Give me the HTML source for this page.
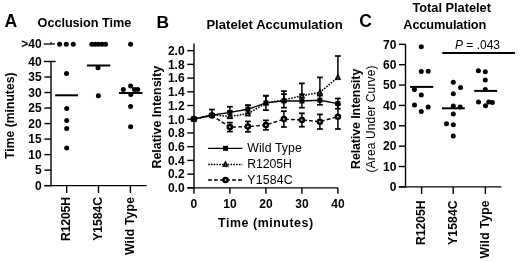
<!DOCTYPE html>
<html><head><meta charset="utf-8"><title>Figure</title>
<style>
html,body{margin:0;padding:0;background:#fff;}
body{width:520px;height:262px;overflow:hidden;}
svg{display:block;will-change:transform;}
svg text{font-family:"Liberation Sans", sans-serif;fill:#000;}
</style></head>
<body>
<svg width="520" height="262" viewBox="0 0 520 262">
<rect width="520" height="262" fill="#fff"/>
<text x="4.5" y="26.7" font-size="17.6" font-weight="bold" text-anchor="start" >A</text>
<text x="37.6" y="27.1" font-size="12.7" font-weight="bold" text-anchor="start" textLength="93.6" lengthAdjust="spacing" >Occlusion Time</text>
<text x="13.6" y="115.7" font-size="12.2" font-weight="bold" text-anchor="middle" textLength="86.4" lengthAdjust="spacing" transform="rotate(-90 13.6 115.7)" >Time (minutes)</text>
<line x1="51" y1="61.49" x2="51" y2="186.35" stroke="#000" stroke-width="1.4"/>
<line x1="43.8" y1="61.49" x2="55.6" y2="61.49" stroke="#000" stroke-width="1.4"/>
<line x1="44.4" y1="185.65" x2="51" y2="185.65" stroke="#000" stroke-width="1.4"/>
<line x1="44.4" y1="170.13" x2="51" y2="170.13" stroke="#000" stroke-width="1.4"/>
<line x1="44.4" y1="154.61" x2="51" y2="154.61" stroke="#000" stroke-width="1.4"/>
<line x1="44.4" y1="139.09" x2="51" y2="139.09" stroke="#000" stroke-width="1.4"/>
<line x1="44.4" y1="123.57" x2="51" y2="123.57" stroke="#000" stroke-width="1.4"/>
<line x1="44.4" y1="108.05" x2="51" y2="108.05" stroke="#000" stroke-width="1.4"/>
<line x1="44.4" y1="92.53" x2="51" y2="92.53" stroke="#000" stroke-width="1.4"/>
<line x1="44.4" y1="77.01" x2="51" y2="77.01" stroke="#000" stroke-width="1.4"/>
<text x="41.6" y="189.95" font-size="12" font-weight="bold" text-anchor="end" >0</text>
<text x="41.6" y="174.43" font-size="12" font-weight="bold" text-anchor="end" >5</text>
<text x="41.6" y="158.91" font-size="12" font-weight="bold" text-anchor="end" >10</text>
<text x="41.6" y="143.39" font-size="12" font-weight="bold" text-anchor="end" >15</text>
<text x="41.6" y="127.87" font-size="12" font-weight="bold" text-anchor="end" >20</text>
<text x="41.6" y="112.35" font-size="12" font-weight="bold" text-anchor="end" >25</text>
<text x="41.6" y="96.83" font-size="12" font-weight="bold" text-anchor="end" >30</text>
<text x="41.6" y="81.31" font-size="12" font-weight="bold" text-anchor="end" >35</text>
<text x="41.6" y="65.79" font-size="12" font-weight="bold" text-anchor="end" >40</text>
<line x1="43.8" y1="44" x2="54.9" y2="44" stroke="#000" stroke-width="1.3"/>
<line x1="51" y1="42" x2="51" y2="44" stroke="#000" stroke-width="1.2"/>
<text x="41.6" y="48.0" font-size="12" font-weight="bold" text-anchor="end" >&gt;40</text>
<line x1="44.4" y1="185.65" x2="146.7" y2="185.65" stroke="#000" stroke-width="1.4"/>
<line x1="66.7" y1="185.65" x2="66.7" y2="193" stroke="#000" stroke-width="1.4"/>
<line x1="98.5" y1="185.65" x2="98.5" y2="193" stroke="#000" stroke-width="1.4"/>
<line x1="130.4" y1="185.65" x2="130.4" y2="193" stroke="#000" stroke-width="1.4"/>
<text x="69.6" y="197.0" font-size="12.2" font-weight="bold" text-anchor="end" textLength="44" lengthAdjust="spacing" transform="rotate(-90 69.6 197.0)" >R1205H</text>
<text x="101.6" y="197.0" font-size="12.2" font-weight="bold" text-anchor="end" textLength="43.8" lengthAdjust="spacing" transform="rotate(-90 101.6 197.0)" >Y1584C</text>
<text x="134.3" y="197.0" font-size="12.2" font-weight="bold" text-anchor="end" textLength="58" lengthAdjust="spacing" transform="rotate(-90 134.3 197.0)" >Wild Type</text>
<circle cx="59.6" cy="44.2" r="2.5" fill="#000"/>
<circle cx="66.3" cy="44.2" r="2.5" fill="#000"/>
<circle cx="73.2" cy="44.2" r="2.5" fill="#000"/>
<circle cx="66.5" cy="73.5" r="2.5" fill="#000"/>
<circle cx="66.7" cy="108.4" r="2.5" fill="#000"/>
<circle cx="66.7" cy="120.6" r="2.5" fill="#000"/>
<circle cx="66.7" cy="128.4" r="2.5" fill="#000"/>
<circle cx="66.7" cy="148.1" r="2.5" fill="#000"/>
<line x1="55.1" y1="95.3" x2="78.1" y2="95.3" stroke="#000" stroke-width="2"/>
<circle cx="91.8" cy="44.2" r="2.5" fill="#000"/>
<circle cx="95.2" cy="44.2" r="2.5" fill="#000"/>
<circle cx="98.6" cy="44.2" r="2.5" fill="#000"/>
<circle cx="102.0" cy="44.2" r="2.5" fill="#000"/>
<circle cx="105.5" cy="44.2" r="2.5" fill="#000"/>
<circle cx="98" cy="67.8" r="2.5" fill="#000"/>
<circle cx="98.4" cy="95.7" r="2.5" fill="#000"/>
<line x1="86.9" y1="65.5" x2="110.2" y2="65.5" stroke="#000" stroke-width="2"/>
<circle cx="130.6" cy="44.2" r="2.5" fill="#000"/>
<circle cx="123.3" cy="89.4" r="2.5" fill="#000"/>
<circle cx="130.6" cy="85.9" r="2.5" fill="#000"/>
<circle cx="134.4" cy="89.6" r="2.5" fill="#000"/>
<circle cx="137.7" cy="89.4" r="2.5" fill="#000"/>
<circle cx="130.8" cy="94.4" r="2.5" fill="#000"/>
<circle cx="130.6" cy="106.5" r="2.5" fill="#000"/>
<circle cx="130.6" cy="126.7" r="2.5" fill="#000"/>
<line x1="119" y1="93" x2="142.4" y2="93" stroke="#000" stroke-width="2"/>
<text x="156.6" y="28.0" font-size="17.4" font-weight="bold" text-anchor="start" >B</text>
<text x="206.4" y="28.6" font-size="13" font-weight="bold" text-anchor="start" textLength="136.2" lengthAdjust="spacing" >Platelet Accumulation</text>
<text x="161.0" y="117.2" font-size="12.5" font-weight="bold" text-anchor="middle" textLength="102.8" lengthAdjust="spacing" transform="rotate(-90 161.0 117.2)" >Relative Intensity</text>
<line x1="194" y1="43.6" x2="194" y2="188.55" stroke="#000" stroke-width="1.4"/>
<line x1="187.3" y1="187.85" x2="194" y2="187.85" stroke="#000" stroke-width="1.4"/>
<text x="184.6" y="192.15" font-size="12" font-weight="bold" text-anchor="end" >0.0</text>
<line x1="187.3" y1="174.13" x2="194" y2="174.13" stroke="#000" stroke-width="1.4"/>
<text x="184.6" y="178.43" font-size="12" font-weight="bold" text-anchor="end" >0.2</text>
<line x1="187.3" y1="160.41" x2="194" y2="160.41" stroke="#000" stroke-width="1.4"/>
<text x="184.6" y="164.71" font-size="12" font-weight="bold" text-anchor="end" >0.4</text>
<line x1="187.3" y1="146.69" x2="194" y2="146.69" stroke="#000" stroke-width="1.4"/>
<text x="184.6" y="150.99" font-size="12" font-weight="bold" text-anchor="end" >0.6</text>
<line x1="187.3" y1="132.97" x2="194" y2="132.97" stroke="#000" stroke-width="1.4"/>
<text x="184.6" y="137.27" font-size="12" font-weight="bold" text-anchor="end" >0.8</text>
<line x1="187.3" y1="119.25" x2="194" y2="119.25" stroke="#000" stroke-width="1.4"/>
<text x="184.6" y="123.55" font-size="12" font-weight="bold" text-anchor="end" >1.0</text>
<line x1="187.3" y1="105.53" x2="194" y2="105.53" stroke="#000" stroke-width="1.4"/>
<text x="184.6" y="109.83" font-size="12" font-weight="bold" text-anchor="end" >1.2</text>
<line x1="187.3" y1="91.81" x2="194" y2="91.81" stroke="#000" stroke-width="1.4"/>
<text x="184.6" y="96.11" font-size="12" font-weight="bold" text-anchor="end" >1.4</text>
<line x1="187.3" y1="78.09" x2="194" y2="78.09" stroke="#000" stroke-width="1.4"/>
<text x="184.6" y="82.39" font-size="12" font-weight="bold" text-anchor="end" >1.6</text>
<line x1="187.3" y1="64.37" x2="194" y2="64.37" stroke="#000" stroke-width="1.4"/>
<text x="184.6" y="68.67" font-size="12" font-weight="bold" text-anchor="end" >1.8</text>
<line x1="187.3" y1="50.65" x2="194" y2="50.65" stroke="#000" stroke-width="1.4"/>
<text x="184.6" y="54.95" font-size="12" font-weight="bold" text-anchor="end" >2.0</text>
<line x1="187.3" y1="187.85" x2="337.9" y2="187.85" stroke="#000" stroke-width="1.4"/>
<line x1="193.9" y1="187.85" x2="193.9" y2="193.7" stroke="#000" stroke-width="1.4"/>
<text x="193.9" y="207.9" font-size="12" font-weight="bold" text-anchor="middle" >0</text>
<line x1="229.9" y1="187.85" x2="229.9" y2="193.7" stroke="#000" stroke-width="1.4"/>
<text x="229.9" y="207.9" font-size="12" font-weight="bold" text-anchor="middle" >10</text>
<line x1="265.9" y1="187.85" x2="265.9" y2="193.7" stroke="#000" stroke-width="1.4"/>
<text x="265.9" y="207.9" font-size="12" font-weight="bold" text-anchor="middle" >20</text>
<line x1="301.9" y1="187.85" x2="301.9" y2="193.7" stroke="#000" stroke-width="1.4"/>
<text x="301.9" y="207.9" font-size="12" font-weight="bold" text-anchor="middle" >30</text>
<line x1="337.9" y1="187.85" x2="337.9" y2="193.7" stroke="#000" stroke-width="1.4"/>
<text x="337.9" y="207.9" font-size="12" font-weight="bold" text-anchor="middle" >40</text>
<text x="218.1" y="227.0" font-size="12.4" font-weight="bold" text-anchor="start" textLength="95" lengthAdjust="spacing" >Time (minutes)</text>
<line x1="211.9" y1="114" x2="211.9" y2="117" stroke="#000" stroke-width="1.5"/>
<line x1="209" y1="114" x2="214.8" y2="114" stroke="#000" stroke-width="1.7"/>
<line x1="209" y1="117" x2="214.8" y2="117" stroke="#000" stroke-width="1.7"/>
<line x1="229.9" y1="122.6" x2="229.9" y2="131.6" stroke="#000" stroke-width="1.5"/>
<line x1="227" y1="122.6" x2="232.8" y2="122.6" stroke="#000" stroke-width="1.7"/>
<line x1="227" y1="131.6" x2="232.8" y2="131.6" stroke="#000" stroke-width="1.7"/>
<line x1="247.9" y1="121.4" x2="247.9" y2="131.8" stroke="#000" stroke-width="1.5"/>
<line x1="245" y1="121.4" x2="250.8" y2="121.4" stroke="#000" stroke-width="1.7"/>
<line x1="245" y1="131.8" x2="250.8" y2="131.8" stroke="#000" stroke-width="1.7"/>
<line x1="265.9" y1="120.35" x2="265.9" y2="129.85" stroke="#000" stroke-width="1.5"/>
<line x1="263" y1="120.35" x2="268.8" y2="120.35" stroke="#000" stroke-width="1.7"/>
<line x1="263" y1="129.85" x2="268.8" y2="129.85" stroke="#000" stroke-width="1.7"/>
<line x1="283.9" y1="111.2" x2="283.9" y2="127" stroke="#000" stroke-width="1.5"/>
<line x1="281" y1="111.2" x2="286.8" y2="111.2" stroke="#000" stroke-width="1.7"/>
<line x1="281" y1="127" x2="286.8" y2="127" stroke="#000" stroke-width="1.7"/>
<line x1="301.9" y1="113.3" x2="301.9" y2="126.7" stroke="#000" stroke-width="1.5"/>
<line x1="299" y1="113.3" x2="304.8" y2="113.3" stroke="#000" stroke-width="1.7"/>
<line x1="299" y1="126.7" x2="304.8" y2="126.7" stroke="#000" stroke-width="1.7"/>
<line x1="319.9" y1="114.4" x2="319.9" y2="129" stroke="#000" stroke-width="1.5"/>
<line x1="317" y1="114.4" x2="322.8" y2="114.4" stroke="#000" stroke-width="1.7"/>
<line x1="317" y1="129" x2="322.8" y2="129" stroke="#000" stroke-width="1.7"/>
<line x1="337.9" y1="104.4" x2="337.9" y2="129" stroke="#000" stroke-width="1.5"/>
<line x1="335" y1="104.4" x2="340.8" y2="104.4" stroke="#000" stroke-width="1.7"/>
<line x1="335" y1="129" x2="340.8" y2="129" stroke="#000" stroke-width="1.7"/>
<line x1="211.9" y1="109.5" x2="211.9" y2="115" stroke="#000" stroke-width="1.5"/>
<line x1="209" y1="109.5" x2="214.8" y2="109.5" stroke="#000" stroke-width="1.7"/>
<line x1="229.9" y1="111.4" x2="229.9" y2="116.4" stroke="#000" stroke-width="1.5"/>
<line x1="227" y1="111.4" x2="232.8" y2="111.4" stroke="#000" stroke-width="1.7"/>
<line x1="247.9" y1="105.3" x2="247.9" y2="113.8" stroke="#000" stroke-width="1.5"/>
<line x1="245" y1="105.3" x2="250.8" y2="105.3" stroke="#000" stroke-width="1.7"/>
<line x1="265.9" y1="95.7" x2="265.9" y2="102.9" stroke="#000" stroke-width="1.5"/>
<line x1="263" y1="95.7" x2="268.8" y2="95.7" stroke="#000" stroke-width="1.7"/>
<line x1="283.9" y1="91.1" x2="283.9" y2="100" stroke="#000" stroke-width="1.5"/>
<line x1="281" y1="91.1" x2="286.8" y2="91.1" stroke="#000" stroke-width="1.7"/>
<line x1="301.9" y1="83.4" x2="301.9" y2="95.8" stroke="#000" stroke-width="1.5"/>
<line x1="299" y1="83.4" x2="304.8" y2="83.4" stroke="#000" stroke-width="1.7"/>
<line x1="319.9" y1="77.4" x2="319.9" y2="92.4" stroke="#000" stroke-width="1.5"/>
<line x1="317" y1="77.4" x2="322.8" y2="77.4" stroke="#000" stroke-width="1.7"/>
<line x1="337.9" y1="56" x2="337.9" y2="77.3" stroke="#000" stroke-width="1.5"/>
<line x1="335" y1="56" x2="340.8" y2="56" stroke="#000" stroke-width="1.7"/>
<line x1="211.9" y1="113.8" x2="211.9" y2="116.8" stroke="#000" stroke-width="1.5"/>
<line x1="209" y1="113.8" x2="214.8" y2="113.8" stroke="#000" stroke-width="1.7"/>
<line x1="209" y1="116.8" x2="214.8" y2="116.8" stroke="#000" stroke-width="1.7"/>
<line x1="229.9" y1="106.7" x2="229.9" y2="118.1" stroke="#000" stroke-width="1.5"/>
<line x1="227" y1="106.7" x2="232.8" y2="106.7" stroke="#000" stroke-width="1.7"/>
<line x1="227" y1="118.1" x2="232.8" y2="118.1" stroke="#000" stroke-width="1.7"/>
<line x1="247.9" y1="105.3" x2="247.9" y2="113.3" stroke="#000" stroke-width="1.5"/>
<line x1="245" y1="105.3" x2="250.8" y2="105.3" stroke="#000" stroke-width="1.7"/>
<line x1="245" y1="113.3" x2="250.8" y2="113.3" stroke="#000" stroke-width="1.7"/>
<line x1="265.9" y1="95.7" x2="265.9" y2="110.1" stroke="#000" stroke-width="1.5"/>
<line x1="263" y1="95.7" x2="268.8" y2="95.7" stroke="#000" stroke-width="1.7"/>
<line x1="263" y1="110.1" x2="268.8" y2="110.1" stroke="#000" stroke-width="1.7"/>
<line x1="283.9" y1="94.1" x2="283.9" y2="107.7" stroke="#000" stroke-width="1.5"/>
<line x1="281" y1="94.1" x2="286.8" y2="94.1" stroke="#000" stroke-width="1.7"/>
<line x1="281" y1="107.7" x2="286.8" y2="107.7" stroke="#000" stroke-width="1.7"/>
<line x1="301.9" y1="94.3" x2="301.9" y2="107.7" stroke="#000" stroke-width="1.5"/>
<line x1="299" y1="94.3" x2="304.8" y2="94.3" stroke="#000" stroke-width="1.7"/>
<line x1="299" y1="107.7" x2="304.8" y2="107.7" stroke="#000" stroke-width="1.7"/>
<line x1="319.9" y1="95.6" x2="319.9" y2="104.8" stroke="#000" stroke-width="1.5"/>
<line x1="317" y1="95.6" x2="322.8" y2="95.6" stroke="#000" stroke-width="1.7"/>
<line x1="317" y1="104.8" x2="322.8" y2="104.8" stroke="#000" stroke-width="1.7"/>
<line x1="337.9" y1="98.5" x2="337.9" y2="108.7" stroke="#000" stroke-width="1.5"/>
<line x1="335" y1="98.5" x2="340.8" y2="98.5" stroke="#000" stroke-width="1.7"/>
<line x1="335" y1="108.7" x2="340.8" y2="108.7" stroke="#000" stroke-width="1.7"/>
<polyline points="193.90,119 211.90,115.5 229.90,127.1 247.90,126.6 265.90,125.1 283.90,119.1 301.90,120 319.90,121.7 337.90,116.7" fill="none" stroke="#000" stroke-width="1.4" stroke-dasharray="3.8,2.2"/>
<polyline points="193.90,119 211.90,115.0 229.90,116.4 247.90,113.8 265.90,102.9 283.90,100.0 301.90,95.8 319.90,92.4 337.90,77.3" fill="none" stroke="#000" stroke-width="1.5" stroke-dasharray="1.6,1.3"/>
<polyline points="193.90,119 211.90,115.3 229.90,112.4 247.90,109.3 265.90,102.9 283.90,100.9 301.90,101.0 319.90,100.2 337.90,103.6" fill="none" stroke="#000" stroke-width="1.4"/>
<circle cx="193.9" cy="119" r="2.05" fill="#fff" stroke="#000" stroke-width="2.5"/>
<circle cx="211.9" cy="115.5" r="2.05" fill="#fff" stroke="#000" stroke-width="2.5"/>
<circle cx="229.9" cy="127.1" r="2.05" fill="#fff" stroke="#000" stroke-width="2.5"/>
<circle cx="247.9" cy="126.6" r="2.05" fill="#fff" stroke="#000" stroke-width="2.5"/>
<circle cx="265.9" cy="125.1" r="2.05" fill="#fff" stroke="#000" stroke-width="2.5"/>
<circle cx="283.9" cy="119.1" r="2.05" fill="#fff" stroke="#000" stroke-width="2.5"/>
<circle cx="301.9" cy="120" r="2.05" fill="#fff" stroke="#000" stroke-width="2.5"/>
<circle cx="319.9" cy="121.7" r="2.05" fill="#fff" stroke="#000" stroke-width="2.5"/>
<circle cx="337.9" cy="116.7" r="2.05" fill="#fff" stroke="#000" stroke-width="2.5"/>
<polygon points="193.9,115.46 190.95,121.36 196.85,121.36" fill="#000" stroke="#000" stroke-width="0.5" stroke-linejoin="round"/>
<circle cx="193.9" cy="119.59" r="0.55" fill="#fff" fill-opacity="0.75"/>
<polygon points="211.9,111.46 208.95,117.36 214.85,117.36" fill="#000" stroke="#000" stroke-width="0.5" stroke-linejoin="round"/>
<circle cx="211.9" cy="115.59" r="0.55" fill="#fff" fill-opacity="0.75"/>
<polygon points="229.9,112.86 226.95,118.76 232.85,118.76" fill="#000" stroke="#000" stroke-width="0.5" stroke-linejoin="round"/>
<circle cx="229.9" cy="116.99" r="0.55" fill="#fff" fill-opacity="0.75"/>
<polygon points="247.9,110.26 244.95,116.16 250.85,116.16" fill="#000" stroke="#000" stroke-width="0.5" stroke-linejoin="round"/>
<circle cx="247.9" cy="114.39" r="0.55" fill="#fff" fill-opacity="0.75"/>
<polygon points="265.9,99.36 262.95,105.26 268.85,105.26" fill="#000" stroke="#000" stroke-width="0.5" stroke-linejoin="round"/>
<circle cx="265.9" cy="103.49" r="0.55" fill="#fff" fill-opacity="0.75"/>
<polygon points="283.9,96.46 280.95,102.36 286.85,102.36" fill="#000" stroke="#000" stroke-width="0.5" stroke-linejoin="round"/>
<circle cx="283.9" cy="100.59" r="0.55" fill="#fff" fill-opacity="0.75"/>
<polygon points="301.9,92.26 298.95,98.16 304.85,98.16" fill="#000" stroke="#000" stroke-width="0.5" stroke-linejoin="round"/>
<circle cx="301.9" cy="96.39" r="0.55" fill="#fff" fill-opacity="0.75"/>
<polygon points="319.9,88.86 316.95,94.76 322.85,94.76" fill="#000" stroke="#000" stroke-width="0.5" stroke-linejoin="round"/>
<circle cx="319.9" cy="92.99" r="0.55" fill="#fff" fill-opacity="0.75"/>
<polygon points="337.9,73.76 334.95,79.66 340.85,79.66" fill="#000" stroke="#000" stroke-width="0.5" stroke-linejoin="round"/>
<circle cx="337.9" cy="77.89" r="0.55" fill="#fff" fill-opacity="0.75"/>
<rect x="191.4" y="116.5" width="5.0" height="5.0" fill="#000"/>
<rect x="209.4" y="112.8" width="5.0" height="5.0" fill="#000"/>
<rect x="227.4" y="109.9" width="5.0" height="5.0" fill="#000"/>
<rect x="245.4" y="106.8" width="5.0" height="5.0" fill="#000"/>
<rect x="263.4" y="100.4" width="5.0" height="5.0" fill="#000"/>
<rect x="281.4" y="98.4" width="5.0" height="5.0" fill="#000"/>
<rect x="299.4" y="98.5" width="5.0" height="5.0" fill="#000"/>
<rect x="317.4" y="97.7" width="5.0" height="5.0" fill="#000"/>
<rect x="335.4" y="101.1" width="5.0" height="5.0" fill="#000"/>
<line x1="208.1" y1="148.3" x2="242.4" y2="148.3" stroke="#000" stroke-width="1.3"/>
<rect x="223.0" y="145.8" width="5.0" height="5.0" fill="#000"/>
<line x1="208.1" y1="164.4" x2="242.4" y2="164.4" stroke="#000" stroke-width="1.5" stroke-dasharray="1.6,1.2"/>
<polygon points="225.5,160.86 222.55,166.76 228.45,166.76" fill="#000" stroke="#000" stroke-width="0.5" stroke-linejoin="round"/>
<circle cx="225.5" cy="164.99" r="0.55" fill="#fff" fill-opacity="0.75"/>
<line x1="208.1" y1="180" x2="242.4" y2="180" stroke="#000" stroke-width="1.4" stroke-dasharray="3.8,2.2"/>
<circle cx="225.5" cy="180" r="2.05" fill="#fff" stroke="#000" stroke-width="2.5"/>
<text x="247.3" y="152.4" font-size="12.3" font-weight="normal" text-anchor="start" textLength="54.6" lengthAdjust="spacing" >Wild Type</text>
<text x="247.3" y="168.2" font-size="12.3" font-weight="normal" text-anchor="start" textLength="44.6" lengthAdjust="spacing" >R1205H</text>
<text x="247.3" y="183.5" font-size="12.3" font-weight="normal" text-anchor="start" textLength="45.3" lengthAdjust="spacing" >Y1584C</text>
<text x="359.2" y="26.6" font-size="17.5" font-weight="bold" text-anchor="start" >C</text>
<text x="412.4" y="12.1" font-size="12.8" font-weight="bold" text-anchor="start" textLength="78.6" lengthAdjust="spacing" >Total Platelet</text>
<text x="403.3" y="28.5" font-size="12.8" font-weight="bold" text-anchor="start" textLength="83.0" lengthAdjust="spacing" >Accumulation</text>
<text x="359.6" y="118.8" font-size="12.4" font-weight="bold" text-anchor="middle" textLength="100.2" lengthAdjust="spacing" transform="rotate(-90 359.6 118.8)" >Relative Intensity</text>
<text x="374.9" y="119.0" font-size="12" font-weight="normal" text-anchor="middle" textLength="107" lengthAdjust="spacing" transform="rotate(-90 374.9 119.0)" >(Area Under Curve)</text>
<line x1="405.5" y1="44.31" x2="405.5" y2="187.6" stroke="#000" stroke-width="1.4"/>
<line x1="398.9" y1="186.9" x2="405.5" y2="186.9" stroke="#000" stroke-width="1.4"/>
<text x="396.4" y="191.2" font-size="12" font-weight="bold" text-anchor="end" >0</text>
<line x1="398.9" y1="166.53" x2="405.5" y2="166.53" stroke="#000" stroke-width="1.4"/>
<text x="396.4" y="170.83" font-size="12" font-weight="bold" text-anchor="end" >10</text>
<line x1="398.9" y1="146.16" x2="405.5" y2="146.16" stroke="#000" stroke-width="1.4"/>
<text x="396.4" y="150.46" font-size="12" font-weight="bold" text-anchor="end" >20</text>
<line x1="398.9" y1="125.79" x2="405.5" y2="125.79" stroke="#000" stroke-width="1.4"/>
<text x="396.4" y="130.09" font-size="12" font-weight="bold" text-anchor="end" >30</text>
<line x1="398.9" y1="105.42" x2="405.5" y2="105.42" stroke="#000" stroke-width="1.4"/>
<text x="396.4" y="109.72" font-size="12" font-weight="bold" text-anchor="end" >40</text>
<line x1="398.9" y1="85.05" x2="405.5" y2="85.05" stroke="#000" stroke-width="1.4"/>
<text x="396.4" y="89.35" font-size="12" font-weight="bold" text-anchor="end" >50</text>
<line x1="398.9" y1="64.68" x2="405.5" y2="64.68" stroke="#000" stroke-width="1.4"/>
<text x="396.4" y="68.98" font-size="12" font-weight="bold" text-anchor="end" >60</text>
<line x1="398.9" y1="44.31" x2="405.5" y2="44.31" stroke="#000" stroke-width="1.4"/>
<text x="396.4" y="48.61" font-size="12" font-weight="bold" text-anchor="end" >70</text>
<line x1="398.9" y1="186.9" x2="501.4" y2="186.9" stroke="#000" stroke-width="1.4"/>
<line x1="421.6" y1="186.9" x2="421.6" y2="194" stroke="#000" stroke-width="1.4"/>
<line x1="453.2" y1="186.9" x2="453.2" y2="194" stroke="#000" stroke-width="1.4"/>
<line x1="485.4" y1="186.9" x2="485.4" y2="194" stroke="#000" stroke-width="1.4"/>
<text x="425.0" y="200.4" font-size="12.2" font-weight="bold" text-anchor="end" textLength="44.6" lengthAdjust="spacing" transform="rotate(-90 425.0 200.4)" >R1205H</text>
<text x="457.3" y="200.4" font-size="12.2" font-weight="bold" text-anchor="end" textLength="44.6" lengthAdjust="spacing" transform="rotate(-90 457.3 200.4)" >Y1584C</text>
<text x="488.8" y="200.4" font-size="12.2" font-weight="bold" text-anchor="end" textLength="58.2" lengthAdjust="spacing" transform="rotate(-90 488.8 200.4)" >Wild Type</text>
<circle cx="421.3" cy="46.8" r="2.5" fill="#000"/>
<circle cx="421.3" cy="71.6" r="2.5" fill="#000"/>
<circle cx="428.2" cy="71.3" r="2.5" fill="#000"/>
<circle cx="414.4" cy="89.4" r="2.5" fill="#000"/>
<circle cx="421.3" cy="94.9" r="2.5" fill="#000"/>
<circle cx="414.5" cy="104.9" r="2.5" fill="#000"/>
<circle cx="428.2" cy="106.9" r="2.5" fill="#000"/>
<circle cx="421.3" cy="111.5" r="2.5" fill="#000"/>
<line x1="410.1" y1="86.9" x2="433.2" y2="86.9" stroke="#000" stroke-width="2"/>
<circle cx="453.3" cy="82.2" r="2.5" fill="#000"/>
<circle cx="460.5" cy="87.6" r="2.5" fill="#000"/>
<circle cx="453.3" cy="93.7" r="2.5" fill="#000"/>
<circle cx="453.3" cy="106.1" r="2.5" fill="#000"/>
<circle cx="460.2" cy="106.9" r="2.5" fill="#000"/>
<circle cx="453.3" cy="114" r="2.5" fill="#000"/>
<circle cx="446.5" cy="123.7" r="2.5" fill="#000"/>
<circle cx="453.3" cy="124.7" r="2.5" fill="#000"/>
<circle cx="453.3" cy="135.9" r="2.5" fill="#000"/>
<line x1="441.9" y1="108.3" x2="464.8" y2="108.3" stroke="#000" stroke-width="2"/>
<circle cx="478.4" cy="70.7" r="2.5" fill="#000"/>
<circle cx="485.3" cy="71.8" r="2.5" fill="#000"/>
<circle cx="485.3" cy="79.9" r="2.5" fill="#000"/>
<circle cx="485.3" cy="89.6" r="2.5" fill="#000"/>
<circle cx="478.5" cy="102.1" r="2.5" fill="#000"/>
<circle cx="485.5" cy="105.7" r="2.5" fill="#000"/>
<circle cx="488.8" cy="101.9" r="2.5" fill="#000"/>
<circle cx="492.4" cy="102.6" r="2.5" fill="#000"/>
<line x1="474.2" y1="90.9" x2="497.1" y2="90.9" stroke="#000" stroke-width="2"/>
<text x="455" y="49.2" font-size="12" font-weight="normal"><tspan font-style="italic">P</tspan> = .043</text>
<line x1="442.3" y1="53.1" x2="514.9" y2="53.1" stroke="#000" stroke-width="2"/>
</svg>
</body></html>
